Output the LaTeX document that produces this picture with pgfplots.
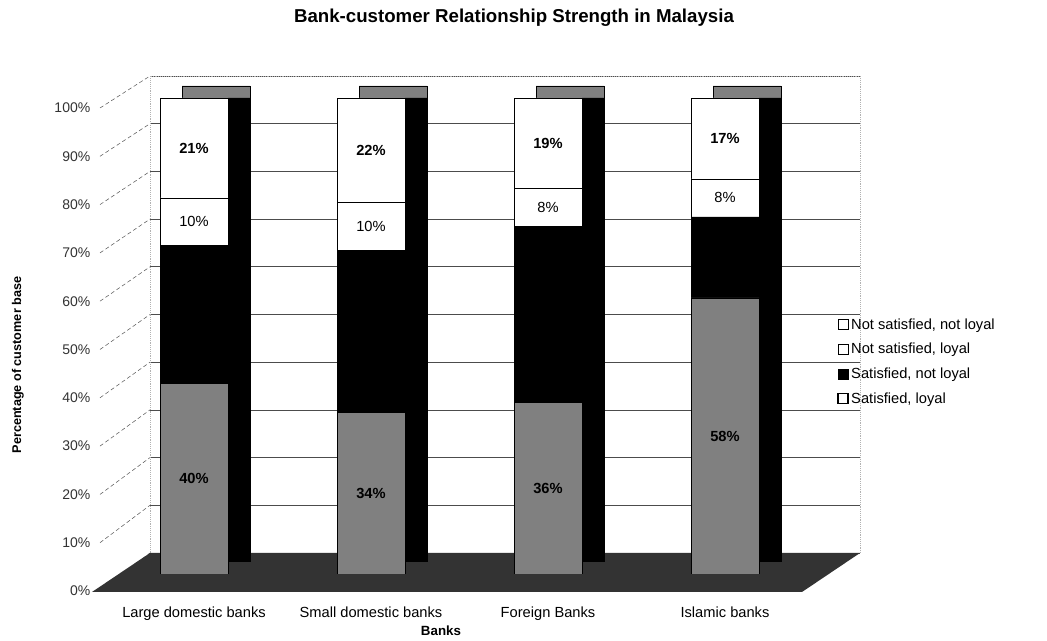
\documentclass[border=0pt]{standalone}
\usepackage{pgfplots}
\pgfplotsset{compat=1.18}
\usepackage{pgfplotstable}
\usepackage{fontspec}
\setmainfont{Liberation Sans}
\pgfplotsset{/pgf/number format/assume math mode=true}

\pgfplotstableread{
x sl snl nsl nsnl
0 40 29 10 21
1 34 34 10 22
2 36 37 8 19
3 58 17 8 17
}\banks

\begin{document}
\begin{tikzpicture}
\begin{scope}[x=0.75pt,y=0.75pt]
\useasboundingbox (0,0) rectangle (1047,641);
\end{scope}

% back wall
\begin{axis}[at={(112.5pt,66pt)}, anchor=south west, scale only axis,
  width=532.5pt, height=357.75pt, xmin=0, xmax=1, ymin=0, ymax=100,
  xtick=\empty, ytick={0,10,...,100}, yticklabels={}, major tick length=0pt,
  ymajorgrids, grid style={black!70, line width=0.5pt},
  axis line style={gray!60, densely dotted, line width=0.4pt}]
\addplot[draw=none] coordinates {(0,0) (1,100)};
\end{axis}

\begin{scope}[x=0.75pt,y=0.75pt]
% side wall lines
\foreach \k in {0,...,10} \draw[black!65, densely dashed, line width=0.4pt] (100,{50+48.3*\k}) -- (150,{88+47.7*\k});
% floor
\fill[black!80] (92,49) -- (150,88) -- (860,88) -- (802,49) -- cycle;
\end{scope}

% tick label axis (front edge of side wall)
\begin{axis}[at={(71.25pt,37.5pt)}, anchor=south west, scale only axis,
  width=1pt, height=362.25pt, xmin=0, xmax=1, ymin=0, ymax=100,
  ytick={0,10,...,100}, yticklabel={\pgfmathprintnumber{\tick}\%},
  axis x line=none, axis y line*=left, y axis line style={draw=none},
  major tick length=0pt,
  yticklabel style={font=\fontsize{10.5}{12}\selectfont, text=black!80}]
\addplot[draw=none] coordinates {(0,0) (1,100)};
\end{axis}

% depth (side and top faces)
\begin{axis}[at={(95.625pt,59.25pt)}, anchor=south west, scale only axis,
  width=531pt, height=357pt, xmin=-0.5, xmax=3.5, ymin=0, ymax=100,
  ybar stacked, bar width=51pt, hide axis]
\addplot[fill=black, draw=black] coordinates {(0,97.5) (1,97.5) (2,97.5) (3,97.5)};
\addplot[fill=gray, draw=black] coordinates {(0,2.5) (1,2.5) (2,2.5) (3,2.5)};
\end{axis}

% front faces
\begin{axis}[at={(79.125pt,50.25pt)}, anchor=south west, scale only axis,
  width=531pt, height=357pt, xmin=-0.5, xmax=3.5, ymin=0, ymax=100,
  ybar stacked, bar width=51pt,
  xtick={0,1,2,3},
  xticklabels={Large domestic banks, Small domestic banks, Foreign Banks, Islamic banks},
  xticklabel style={font=\fontsize{11}{13}\selectfont, yshift=-21pt},
  ytick=\empty, axis line style={draw=none}, major tick length=0pt,
  point meta=explicit,
  every node near coord/.append style={anchor=center, font=\fontsize{11}{13}\selectfont},
  legend style={at={(axis description cs:1.0275,0.548)}, anchor=north west,
    draw=none, fill=none, font=\fontsize{11}{13}\selectfont, row sep=5pt},
  legend cell align=left, reverse legend]
\addplot[fill=gray, draw=black, line width=0.5pt,
  nodes near coords={\textbf{\pgfmathprintnumber{\pgfplotspointmeta}\%}},
  legend image code/.code={\draw[fill=white, draw=black, line width=1pt] (0pt,-3.5pt) rectangle (7.5pt,4pt);}]
  table[x=x, y=sl, meta=sl] {\banks};
\addplot[fill=black, draw=black, line width=0.5pt,
  legend image code/.code={\draw[fill=black, draw=black, line width=0.5pt] (0pt,-3.5pt) rectangle (7.5pt,4pt);}]
  table[x=x, y=snl, meta=snl] {\banks};
\addplot[fill=white, draw=black, line width=0.5pt,
  nodes near coords={\pgfmathprintnumber{\pgfplotspointmeta}\%},
  legend image code/.code={\draw[fill=white, draw=black, line width=0.5pt] (0pt,-3.5pt) rectangle (7.5pt,4pt);}]
  table[x=x, y=nsl, meta=nsl] {\banks};
\addplot[fill=white, draw=black, line width=0.5pt,
  nodes near coords={\textbf{\pgfmathprintnumber{\pgfplotspointmeta}\%}},
  legend image code/.code={\draw[fill=white, draw=black, line width=0.5pt] (0pt,-3.5pt) rectangle (7.5pt,4pt);}]
  table[x=x, y=nsnl, meta=nsnl] {\banks};
\legend{{Satisfied, loyal}, {Satisfied, not loyal}, {Not satisfied, loyal}, {Not satisfied, not loyal}}
\end{axis}

\begin{scope}[x=0.75pt,y=0.75pt]
\node[font=\bfseries\fontsize{14}{16}\selectfont] at (514,623) {Bank-customer Relationship Strength in Malaysia};
\node[rotate=90, font=\bfseries\fontsize{9.5}{11}\selectfont] at (18,276) {Percentage of customer base};
\node[font=\bfseries\fontsize{10}{12}\selectfont] at (441,10) {Banks};
\end{scope}
\end{tikzpicture}
\end{document}
